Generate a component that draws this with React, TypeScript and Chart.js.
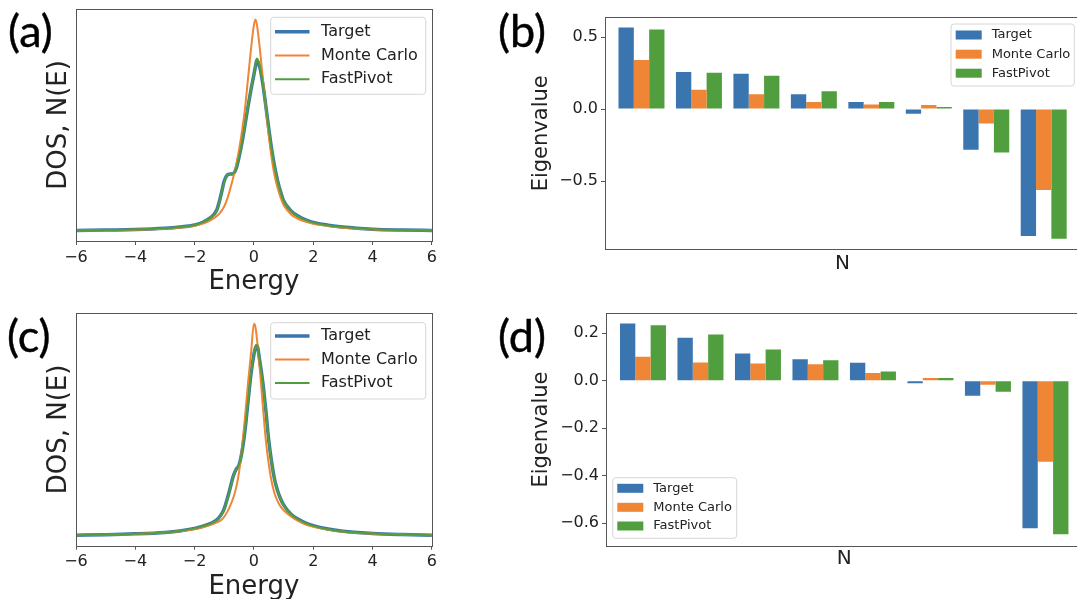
import React, { useEffect, useRef } from 'react';
import { Chart, registerables } from 'chart.js';

Chart.register(...registerables);

// ---------- data ----------
const seriesNames = ['Target', 'Monte Carlo', 'FastPivot'];

const energy = [-6, -5, -4, -3, -2.5, -2, -1.75, -1.5, -1.25, -1.1, -1.0, -0.9, -0.8, -0.7, -0.6, -0.5, -0.4, -0.3, -0.2, -0.1, 0, 0.05, 0.1, 0.2, 0.3, 0.4, 0.5, 0.6, 0.7, 0.8, 0.9, 1.0, 1.25, 1.5, 1.75, 2, 2.5, 3, 4, 5, 6];
const energyTicks = [-6, -4, -2, 0, 2, 4, 6];

// panel (a)
const dosTargetA = [0.000, 0.002, 0.004, 0.010, 0.016, 0.026, 0.037, 0.057, 0.098, 0.175, 0.236, 0.263, 0.268, 0.269, 0.294, 0.350, 0.418, 0.503, 0.588, 0.668, 0.740, 0.778, 0.808, 0.772, 0.694, 0.590, 0.482, 0.382, 0.300, 0.234, 0.182, 0.141, 0.093, 0.067, 0.050, 0.038, 0.025, 0.016, 0.006, 0.002, 0.000];
const dosMonteCarloA = [0.000, 0.001, 0.003, 0.008, 0.013, 0.022, 0.031, 0.046, 0.068, 0.092, 0.115, 0.150, 0.198, 0.250, 0.310, 0.385, 0.475, 0.580, 0.720, 0.860, 0.975, 1.000, 0.975, 0.860, 0.720, 0.580, 0.450, 0.340, 0.258, 0.200, 0.155, 0.120, 0.076, 0.054, 0.041, 0.032, 0.021, 0.013, 0.005, 0.002, 0.000];
const dosFastPivotA = [0.000, 0.002, 0.004, 0.010, 0.016, 0.026, 0.037, 0.056, 0.095, 0.170, 0.232, 0.262, 0.268, 0.270, 0.296, 0.352, 0.420, 0.505, 0.590, 0.672, 0.745, 0.785, 0.815, 0.775, 0.695, 0.590, 0.480, 0.380, 0.298, 0.232, 0.180, 0.140, 0.092, 0.066, 0.049, 0.037, 0.024, 0.016, 0.006, 0.002, 0.000];

// panel (c)
const dosTargetC = [0.000, 0.002, 0.006, 0.013, 0.020, 0.032, 0.041, 0.053, 0.072, 0.098, 0.126, 0.172, 0.224, 0.278, 0.312, 0.333, 0.398, 0.498, 0.632, 0.762, 0.857, 0.887, 0.897, 0.820, 0.721, 0.591, 0.447, 0.342, 0.260, 0.209, 0.171, 0.143, 0.099, 0.075, 0.057, 0.045, 0.029, 0.018, 0.008, 0.003, 0.000];
const dosMonteCarloC = [0.000, 0.002, 0.005, 0.012, 0.018, 0.028, 0.036, 0.046, 0.060, 0.072, 0.088, 0.110, 0.140, 0.175, 0.225, 0.300, 0.420, 0.560, 0.720, 0.860, 1.000, 0.985, 0.930, 0.780, 0.610, 0.450, 0.335, 0.250, 0.195, 0.160, 0.135, 0.118, 0.088, 0.066, 0.050, 0.040, 0.026, 0.016, 0.007, 0.003, 0.000];
const dosFastPivotC = [0.000, 0.002, 0.006, 0.013, 0.020, 0.032, 0.041, 0.052, 0.070, 0.095, 0.122, 0.168, 0.220, 0.275, 0.312, 0.335, 0.400, 0.500, 0.635, 0.765, 0.860, 0.890, 0.900, 0.820, 0.720, 0.590, 0.445, 0.340, 0.258, 0.208, 0.170, 0.142, 0.098, 0.074, 0.056, 0.044, 0.028, 0.017, 0.008, 0.003, 0.000];

// panel (b)
const eigIndex = [0, 1, 2, 3, 4, 5, 6, 7];
const eigTargetB = [0.567, 0.257, 0.245, 0.102, 0.049, -0.032, -0.282, -0.882];
const eigMonteCarloB = [0.340, 0.134, 0.102, 0.049, 0.032, 0.028, -0.100, -0.563];
const eigFastPivotB = [0.553, 0.252, 0.231, 0.123, 0.049, 0.014, -0.301, -0.900];
const eigTicksB = [-0.5, 0.0, 0.5];

// panel (d)
const eigTargetD = [0.241, 0.181, 0.115, 0.090, 0.076, -0.011, -0.063, -0.622];
const eigMonteCarloD = [0.101, 0.077, 0.073, 0.069, 0.032, 0.011, -0.017, -0.341];
const eigFastPivotD = [0.234, 0.195, 0.131, 0.086, 0.039, 0.011, -0.046, -0.647];
const eigTicksD = [-0.6, -0.4, -0.2, 0.0, 0.2];

// ---------- styles ----------
const COLORS = ['#3b75af', '#ef8636', '#519e3e'];
const LINE_WIDTHS = [3.5, 2, 2];
const FRAME = '#555555';
const TEXT = '#222222';
const FONT = "'DejaVu Sans', sans-serif";

const fmt = (v: number, digits: number) => {
  const r = Math.abs(v) < 1e-9 ? 0 : v;
  return r.toFixed(digits).replace('-', '\u2212');
};

const framePlugin = {
  id: 'frame',
  afterDatasetsDraw(chart: any) {
    const { ctx, chartArea: a } = chart;
    ctx.save();
    ctx.strokeStyle = FRAME;
    ctx.lineWidth = 1;
    const l = Math.round(a.left) + 0.5;
    const t = Math.round(a.top) + 0.5;
    const r = Math.round(a.right) + 0.5;
    const b = Math.round(a.bottom) + 0.5;
    ctx.strokeRect(l, t, r - l, b - t);
    ctx.restore();
  },
};

const legendPlugin = {
  id: 'mplLegend',
  afterDraw(chart: any, _args: any, o: any) {
    if (!o || !o.box) return;
    const { ctx } = chart;
    const [bx, by, bw, bh] = o.box;
    ctx.save();
    ctx.beginPath();
    const rad = 3;
    ctx.moveTo(bx + rad, by);
    ctx.lineTo(bx + bw - rad, by);
    ctx.quadraticCurveTo(bx + bw, by, bx + bw, by + rad);
    ctx.lineTo(bx + bw, by + bh - rad);
    ctx.quadraticCurveTo(bx + bw, by + bh, bx + bw - rad, by + bh);
    ctx.lineTo(bx + rad, by + bh);
    ctx.quadraticCurveTo(bx, by + bh, bx, by + bh - rad);
    ctx.lineTo(bx, by + rad);
    ctx.quadraticCurveTo(bx, by, bx + rad, by);
    ctx.closePath();
    ctx.fillStyle = 'rgba(255,255,255,0.85)';
    ctx.fill();
    ctx.strokeStyle = '#d6d6d6';
    ctx.lineWidth = 1;
    ctx.stroke();
    chart.data.datasets.forEach((ds: any, i: number) => {
      const y = o.rows[i];
      if (o.kind === 'line') {
        ctx.strokeStyle = ds.borderColor;
        ctx.lineWidth = ds.borderWidth;
        ctx.beginPath();
        ctx.moveTo(o.handle[0], y);
        ctx.lineTo(o.handle[1], y);
        ctx.stroke();
      } else {
        ctx.fillStyle = ds.backgroundColor;
        ctx.fillRect(o.handle[0], y - o.patchH / 2, o.handle[1] - o.handle[0], o.patchH);
      }
      ctx.fillStyle = TEXT;
      ctx.font = `${o.fontSize}px ${FONT}`;
      ctx.textBaseline = 'middle';
      ctx.textAlign = 'left';
      ctx.fillText(ds.label, o.textX, y);
    });
    ctx.restore();
  },
};

function dosConfig(series: number[][], o: any) {
  return {
    type: 'line',
    data: {
      datasets: series.map((s, k) => ({
        label: seriesNames[k],
        data: energy.map((e, i) => ({ x: e, y: s[i] })),
        borderColor: COLORS[k],
        backgroundColor: COLORS[k],
        borderWidth: LINE_WIDTHS[k],
        pointRadius: 0,
        cubicInterpolationMode: 'monotone',
        fill: false,
        order: 3 - k,
      })),
    },
    options: {
      responsive: false,
      animation: false,
      layout: { padding: { left: 0, top: o.padTop, right: o.padRight, bottom: 0 } },
      plugins: { legend: { display: false }, tooltip: { enabled: false }, mplLegend: o.legend },
      scales: {
        x: {
          type: 'linear',
          min: -6,
          max: 6,
          offset: false,
          grid: { display: true, drawOnChartArea: false, drawTicks: true, tickLength: 4, color: FRAME, offset: false },
          border: { display: false },
          ticks: { padding: 3, color: TEXT, font: { family: FONT, size: 16 }, maxRotation: 0, autoSkip: false, callback: (v: number) => fmt(v, 0) },
          afterBuildTicks: (ax: any) => { ax.ticks = energyTicks.map((v) => ({ value: v })); },
          afterFit: (ax: any) => { ax.height = o.xHeight; },
          title: { display: true, text: 'Energy', color: TEXT, font: { family: FONT, size: 26 }, padding: { top: 0, bottom: o.xTitlePad } },
        },
        y: {
          type: 'linear',
          min: -0.05,
          max: 1.05,
          grid: { display: false },
          border: { display: false },
          ticks: { display: false },
          afterFit: (ax: any) => { ax.width = o.yWidth; },
          title: { display: true, text: 'DOS, N(E)', color: TEXT, font: { family: FONT, size: 26 }, padding: { top: o.yTitlePad, bottom: 0 } },
        },
      },
    },
    plugins: [framePlugin, legendPlugin],
  };
}

function eigConfig(series: number[][], ticks: number[], o: any) {
  return {
    type: 'bar',
    data: {
      datasets: series.map((s, k) => ({
        label: seriesNames[k],
        data: eigIndex.map((n, i) => ({ x: n, y: s[i] })),
        backgroundColor: COLORS[k],
        borderWidth: 0,
        categoryPercentage: 0.8,
        barPercentage: 1.0,
      })),
    },
    options: {
      responsive: false,
      animation: false,
      layout: { padding: { left: 0, top: o.padTop, right: o.padRight, bottom: 0 } },
      plugins: { legend: { display: false }, tooltip: { enabled: false }, mplLegend: o.legend },
      scales: {
        x: {
          type: 'linear',
          min: o.xMin,
          max: o.xMax,
          offset: false,
          grid: { display: false, offset: false },
          border: { display: false },
          ticks: { display: false },
          afterBuildTicks: (ax: any) => { ax.ticks = eigIndex.map((v) => ({ value: v })); },
          afterFit: (ax: any) => { ax.height = o.xHeight; },
          title: { display: true, text: 'N', color: TEXT, font: { family: FONT, size: 20 }, padding: { top: 0, bottom: o.xTitlePad } },
        },
        y: {
          type: 'linear',
          min: o.yMin,
          max: o.yMax,
          grid: { display: true, drawOnChartArea: false, drawTicks: true, tickLength: 4, color: FRAME },
          border: { display: false },
          ticks: { padding: 3, color: TEXT, font: { family: FONT, size: 16 }, autoSkip: false, callback: (v: number) => fmt(v, 1) },
          afterBuildTicks: (ax: any) => { ax.ticks = ticks.map((v) => ({ value: v })); },
          afterFit: (ax: any) => { ax.width = o.yWidth; },
          title: { display: true, text: 'Eigenvalue', color: TEXT, font: { family: FONT, size: 21 }, padding: { top: o.yTitlePad, bottom: 0 } },
        },
      },
    },
    plugins: [framePlugin, legendPlugin],
  };
}

function ChartCanvas({ make, left, top, width, height }: any) {
  const ref = useRef<HTMLCanvasElement>(null);
  useEffect(() => {
    const chart = new Chart(ref.current as HTMLCanvasElement, make());
    return () => chart.destroy();
  }, []);
  return (
    <canvas
      ref={ref}
      width={width}
      height={height}
      style={{ position: 'absolute', left, top, width, height, display: 'block' }}
    />
  );
}

const panelLabel = (left: number, top: number): React.CSSProperties => ({
  position: 'absolute',
  left,
  top,
  fontFamily: "Lato, 'Open Sans', sans-serif",
  fontSize: 45,
  lineHeight: '45px',
  color: '#000',
  whiteSpace: 'nowrap',
  WebkitTextStroke: '0.4px #000',
});

export default function App() {
  const makeA = () =>
    dosConfig([dosTargetA, dosMonteCarloA, dosFastPivotA], {
      padTop: 9, padRight: 7, yWidth: 76, xHeight: 59, xTitlePad: 2.1, yTitlePad: 43.4,
      legend: { kind: 'line', box: [270.7, 17.3, 155, 77], rows: [31.7, 55.5, 79.3], handle: [275, 309.5], textX: 321, fontSize: 16 },
    });
  const makeC = () =>
    dosConfig([dosTargetC, dosMonteCarloC, dosFastPivotC], {
      padTop: 13.3, padRight: 7.3, yWidth: 76, xHeight: 64.3, xTitlePad: 7.1, yTitlePad: 43.4,
      legend: { kind: 'line', box: [270.7, 22.7, 155, 76.3], rows: [36, 59.5, 83], handle: [275, 309.5], textX: 321, fontSize: 16 },
    });
  const makeB = () =>
    eigConfig([eigTargetB, eigMonteCarloB, eigFastPivotB], eigTicksB, {
      padTop: 17.3, padRight: 9.8, yWidth: 115, xHeight: 50.7, xTitlePad: 23.9, yTitlePad: 39.4,
      xMin: -0.635, xMax: 7.635, yMin: -0.974, yMax: 0.637,
      legend: { kind: 'patch', box: [461, 24, 123.3, 62], rows: [35, 54.2, 73.2], handle: [465.7, 491.7], patchH: 9, textX: 501.7, fontSize: 13 },
    });
  const makeD = () =>
    eigConfig([eigTargetD, eigMonteCarloD, eigFastPivotD], eigTicksD, {
      padTop: 13.3, padRight: 7.6, yWidth: 116, xHeight: 54.3, xTitlePad: 29.6, yTitlePad: 39.4,
      xMin: -0.643, xMax: 7.643, yMin: -0.695, yMax: 0.284,
      legend: { kind: 'patch', box: [122.7, 177.7, 124, 60.6], rows: [188.3, 207.3, 226], handle: [127.3, 153.3], patchH: 9, textX: 163.3, fontSize: 13 },
    });

  return (
    <div style={{ position: 'fixed', left: 0, top: 0, width: 1077, height: 599, overflow: 'hidden', background: '#fff' }}>
      <ChartCanvas make={makeA} left={0} top={0} width={440} height={300} />
      <ChartCanvas make={makeB} left={490} top={0} width={600} height={300} />
      <ChartCanvas make={makeC} left={0} top={300} width={440} height={310} />
      <ChartCanvas make={makeD} left={490} top={300} width={600} height={300} />
      <div style={panelLabel(8, 8)}>(a)</div>
      <div style={panelLabel(498, 8)}>(b)</div>
      <div style={panelLabel(7, 313)}>(c)</div>
      <div style={panelLabel(498, 313)}>(d)</div>
    </div>
  );
}
